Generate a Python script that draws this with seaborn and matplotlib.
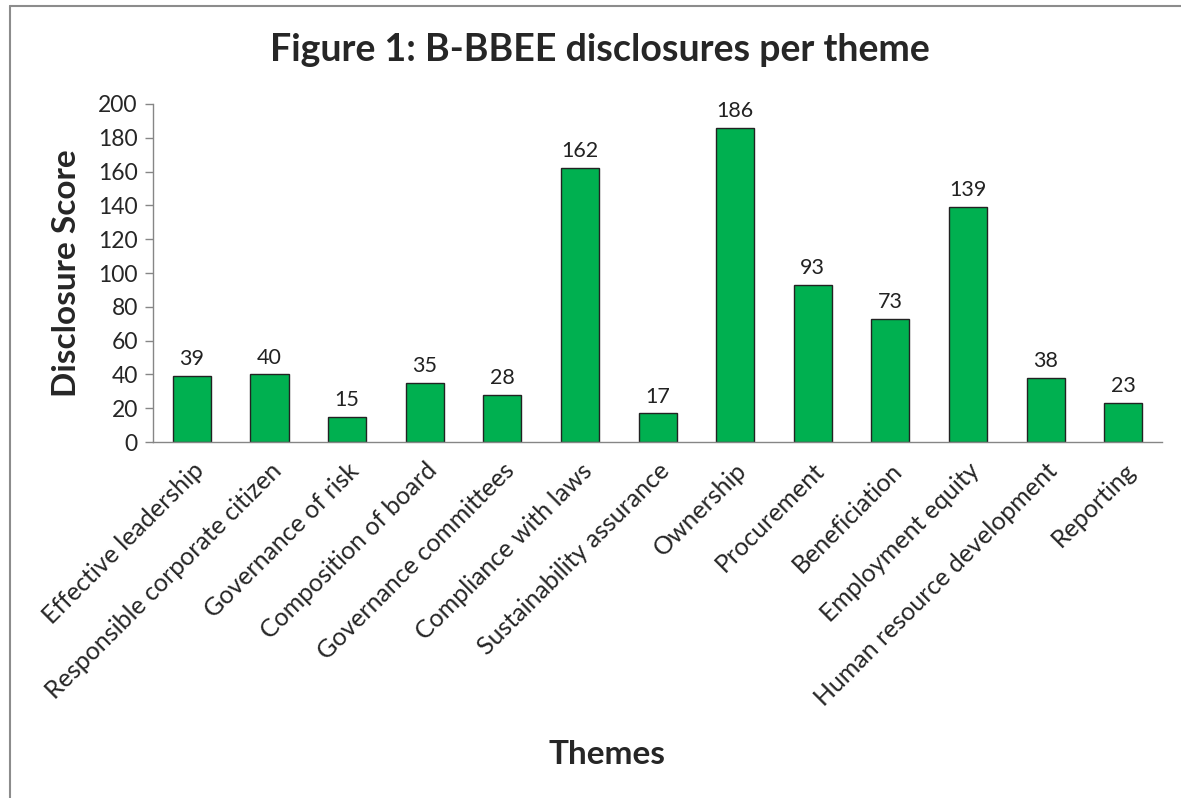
import matplotlib.pyplot as plt
import matplotlib.lines as mlines
import pandas as pd
import seaborn as sns

themes = ["Effective leadership", "Responsible corporate citizen", "Governance of risk",
          "Composition of board", "Governance committees", "Compliance with laws",
          "Sustainability assurance", "Ownership", "Procurement", "Beneficiation",
          "Employment equity", "Human resource development", "Reporting"]
scores = [39, 40, 15, 35, 28, 162, 17, 186, 93, 73, 139, 38, 23]
y_ticks = [0, 20, 40, 60, 80, 100, 120, 140, 160, 180, 200]

df = pd.DataFrame({"Theme": themes, "Score": scores})

sns.set_style("white")
plt.rcParams["font.family"] = ["Lato", "DejaVu Sans"]

fig = plt.figure(figsize=(11.81, 7.98), dpi=100)
ax = fig.add_axes([0.1296, 0.446, 0.8544, 0.4237])

sns.barplot(data=df, x="Theme", y="Score", color="#00B050", edgecolor="#222222",
            linewidth=1.0, width=0.49, saturation=1, ax=ax)

# value labels above bars
for i, v in enumerate(scores):
    ax.text(i, v + 4, str(v), ha="center", va="bottom", fontsize=15.5, color="#222222")

ax.set_ylim(0, 200)
ax.set_xlim(-0.5, len(themes) - 0.5)
ax.set_yticks(y_ticks)
ax.set_yticklabels([str(t) for t in y_ticks], fontsize=16.5)
ax.set_xticks(range(len(themes)))
ax.set_xticklabels(themes, rotation=45, ha="right", rotation_mode="anchor", fontsize=18)

ax.tick_params(axis="y", direction="out", length=6, width=1, color="#868686", pad=5, left=True)
ax.tick_params(axis="x", length=0, pad=12)

for side in ["top", "right"]:
    ax.spines[side].set_visible(False)
for side in ["left", "bottom"]:
    ax.spines[side].set_color("#868686")
    ax.spines[side].set_linewidth(1)

ax.set_xlabel("")
ax.set_ylabel("")
fig.text(0.056, 0.658, "Disclosure Score", rotation=90, ha="center", va="center",
         fontsize=24, fontweight="bold")
fig.text(0.514, 0.054, "Themes", ha="center", va="center", fontsize=24, fontweight="bold")
fig.text(0.508, 0.937, "Figure 1: B-BBEE disclosures per theme", ha="center", va="center",
         fontsize=27, fontweight="bold")

# chart frame (left and top edges visible)
fig.add_artist(mlines.Line2D([0.0085, 0.0085], [0, 0.993], transform=fig.transFigure,
                             color="#8c8c8c", linewidth=1.5))
fig.add_artist(mlines.Line2D([0.0085, 1], [0.993, 0.993], transform=fig.transFigure,
                             color="#8c8c8c", linewidth=1.5))

fig.savefig("out.png", dpi=100, facecolor="white")
